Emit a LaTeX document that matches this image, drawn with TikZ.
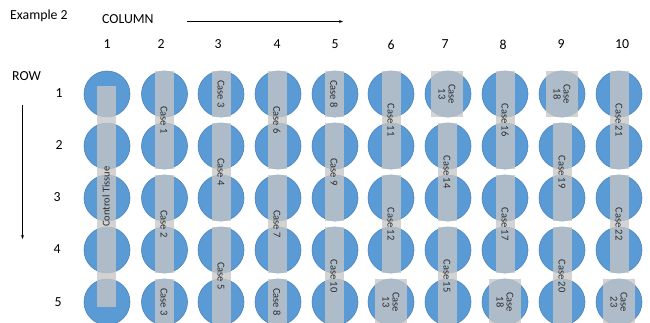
\documentclass[tikz,border=0pt]{standalone}
\usepackage{fontspec}
\setmainfont{Carlito}
\usetikzlibrary{arrows.meta}
\definecolor{wellblue}{RGB}{91,155,213}
\definecolor{welledge}{RGB}{74,130,185}
\definecolor{stripgray}{RGB}{198,198,198}
\definecolor{striptext}{RGB}{45,45,45}
\tikzset{
  well/.style={circle, fill=wellblue, draw=welledge, line width=0.6pt, minimum size=46pt, inner sep=0pt},
  stripbase/.style={rectangle, fill=stripgray, fill opacity=0.78, text opacity=1, inner sep=0pt,
     minimum height=19pt, text=striptext, font=\fontsize{10.5}{10.5}\selectfont},
  strip/.style={stripbase, rotate=-90},
  widestrip/.style={strip, minimum height=32pt, align=center, font=\fontsize{10.5}{10}\selectfont},
  ctrlstrip/.style={stripbase, rotate=90},
  axislabel/.style={font=\fontsize{13.8}{15}\selectfont, text=black, inner sep=0pt},
  axisarrow/.style={-{Stealth[length=4pt,width=3pt]}, line width=0.7pt, black},
}
\newcommand\mystrip[6]{% style, name, x, row-center top, row-center bottom, text
  \pgfmathsetmacro\ymid{(#4+#5)/2}%
  \pgfmathsetmacro\slen{#5-#4+46}%
  \node[#1, minimum width=\slen] (#2) at (#3,\ymid) {#6};}
\begin{document}
\begin{tikzpicture}[x=1pt,y=-1pt]
\useasboundingbox (0,0) rectangle (650,322);
\clip (0,0) rectangle (650,322);
% titles
\node[axislabel, anchor=west] (ex) at (10,16) {Example 2};
\node[axislabel, anchor=west] (col) at (102,19) {COLUMN};
\coordinate (ha) at (187,21.5);
\coordinate (hb) at (343,21.5);
\draw[axisarrow] (ha) -- (hb);
\node[axislabel, anchor=west] (row) at (12,76) {ROW};
\coordinate (va) at (22.5,105);
\coordinate (vb) at (22.5,239);
\draw[axisarrow] (va) -- (vb);
% column numbers
\foreach \c/\x in {1/107,2/161,3/218,4/277,5/335,6/391,7/445,8/503,9/561,10/622}
  \node[axislabel] (cn\c) at (\x,44.5) {\c};
% row numbers
\foreach \r/\x/\y in {1/59/93,2/59/145,3/57/197,4/57/249,5/58/302}
  \node[axislabel] (rn\r) at (\x,\y) {\r};
% wells
\foreach \c/\x in {1/107,2/164.5,3/221,4/278,5/335,6/391,7/448,8/505,9/562,10/619}
  \foreach \r/\y in {1/94,2/146,3/198,4/250,5/302}
    \node[well] (w\c-\r) at (\x,\y) {};
% control tissue
\node[ctrlstrip, minimum width=221pt] (ctrl) at (106,196.5) {Control Tissue};
% strips
\mystrip{strip}{s2a}{164}{94}{146}{Case 1}
\mystrip{strip}{s2b}{164}{198}{250}{Case 2}
\mystrip{strip}{s2c}{164}{302}{302}{Case 3}
\mystrip{strip}{s3a}{221}{94}{94}{Case 3}
\mystrip{strip}{s3b}{221}{146}{198}{Case 4}
\mystrip{strip}{s3c}{221}{250}{302}{Case 5}
\mystrip{strip}{s4a}{277}{94}{146}{Case 6}
\mystrip{strip}{s4b}{277}{198}{250}{Case 7}
\mystrip{strip}{s4c}{277}{302}{302}{Case 8}
\mystrip{strip}{s5a}{334}{94}{94}{Case 8}
\mystrip{strip}{s5b}{334}{146}{198}{Case 9}
\mystrip{strip}{s5c}{334}{250}{302}{Case 10}
\mystrip{strip}{s6a}{391}{94}{146}{Case 11}
\mystrip{strip}{s6b}{391}{198}{250}{Case 12}
\mystrip{widestrip}{s6c}{391}{302}{302}{Case\\13}
\mystrip{widestrip}{s7a}{447}{94}{94}{Case\\13}
\mystrip{strip}{s7b}{447}{146}{198}{Case 14}
\mystrip{strip}{s7c}{447}{250}{302}{Case 15}
\mystrip{strip}{s8a}{505}{94}{146}{Case 16}
\mystrip{strip}{s8b}{505}{198}{250}{Case 17}
\mystrip{widestrip}{s8c}{505}{302}{302}{Case\\18}
\mystrip{widestrip}{s9a}{562}{94}{94}{Case\\18}
\mystrip{strip}{s9b}{562}{146}{198}{Case 19}
\mystrip{strip}{s9c}{562}{250}{302}{Case 20}
\mystrip{strip}{s10a}{619}{94}{146}{Case 21}
\mystrip{strip}{s10b}{619}{198}{250}{Case 22}
\mystrip{widestrip}{s10c}{619}{302}{302}{Case\\23}
\end{tikzpicture}
\end{document}
